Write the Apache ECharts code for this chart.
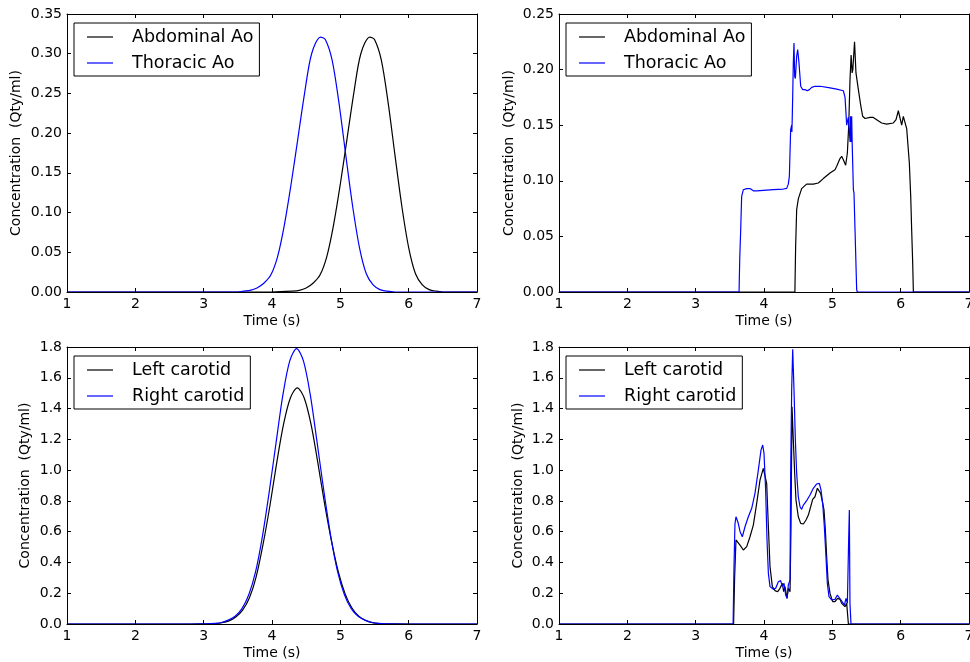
<!DOCTYPE html>
<html>
<head>
<meta charset="utf-8">
<script src="https://cdn.jsdelivr.net/npm/echarts@6/dist/echarts.min.js"></script>
<style>
html,body{margin:0;padding:0;background:#fff}
#main{width:970px;height:662px}
</style>
</head>
<body>
<div id="main"></div>
<script>
// top left : smooth curves
var abdTimeA = [1, 3.5, 4.0, 4.3, 4.4, 4.5, 4.6, 4.7, 4.8, 4.9, 5.0, 5.1, 5.2, 5.3, 5.43, 5.5, 5.6, 5.7, 5.8, 5.9, 6.0, 6.1, 6.2, 6.3, 6.4, 6.5, 6.8, 7];
var abdValA  = [0, 0, 0, 0.001, 0.002, 0.005, 0.011, 0.021, 0.044, 0.084, 0.136, 0.194, 0.252, 0.300, 0.321, 0.318, 0.292, 0.238, 0.172, 0.108, 0.056, 0.023, 0.009, 0.003, 0.001, 0, 0, 0];
var thoTimeA = [1, 3.0, 3.5, 3.58, 3.68, 3.78, 3.88, 3.98, 4.08, 4.18, 4.28, 4.38, 4.48, 4.58, 4.71, 4.78, 4.88, 4.98, 5.08, 5.18, 5.28, 5.38, 5.48, 5.58, 5.68, 5.8, 6.2, 7];
var thoValA  = [0, 0, 0, 0.001, 0.002, 0.005, 0.011, 0.021, 0.044, 0.084, 0.136, 0.194, 0.252, 0.300, 0.321, 0.318, 0.292, 0.238, 0.172, 0.108, 0.056, 0.023, 0.009, 0.003, 0.001, 0, 0, 0];

// top right
var abdTimeB = [1, 4.452, 4.463, 4.478, 4.503, 4.551, 4.624, 4.722, 4.795, 4.868, 4.966, 5.039, 5.064, 5.112, 5.137, 5.161, 5.195, 5.22, 5.24, 5.258, 5.275, 5.29, 5.3, 5.325, 5.346, 5.381, 5.415, 5.444, 5.478, 5.551, 5.6, 5.649, 5.722, 5.795, 5.893, 5.932, 5.966, 5.99, 6.015, 6.039, 6.063, 6.088, 6.112, 6.127, 6.147, 6.161, 6.176, 6.186, 7];
var abdValB  = [0, 0, 0.041, 0.074, 0.084, 0.093, 0.097, 0.097, 0.098, 0.102, 0.107, 0.110, 0.113, 0.120, 0.122, 0.119, 0.114, 0.125, 0.150, 0.190, 0.213, 0.197, 0.200, 0.225, 0.197, 0.182, 0.168, 0.158, 0.156, 0.157, 0.157, 0.155, 0.152, 0.151, 0.152, 0.155, 0.163, 0.162, 0.150, 0.158, 0.159, 0.147, 0.146, 0.116, 0.086, 0.056, 0.026, 0, 0];
var thoTimeB = [1, 3.635, 3.645, 3.659, 3.673, 3.698, 3.746, 3.795, 3.844, 3.893, 3.99, 4.137, 4.283, 4.332, 4.356, 4.371, 4.39, 4.405, 4.408, 4.412, 4.42, 4.429, 4.439, 4.449, 4.459, 4.478, 4.493, 4.512, 4.537, 4.566, 4.6, 4.634, 4.664, 4.698, 4.746, 4.82, 4.966, 5.064, 5.161, 5.186, 5.21, 5.234, 5.249, 5.26, 5.268, 5.275, 5.283, 5.29, 5.298, 5.308, 5.317, 5.332, 5.356, 5.366, 7];
var thoValB  = [0, 0, 0.03, 0.056, 0.086, 0.092, 0.093, 0.093, 0.091, 0.091, 0.0914, 0.092, 0.0926, 0.0932, 0.097, 0.104, 0.146, 0.150, 0.144, 0.153, 0.176, 0.206, 0.224, 0.194, 0.192, 0.212, 0.218, 0.206, 0.185, 0.182, 0.182, 0.181, 0.182, 0.184, 0.185, 0.185, 0.1835, 0.1825, 0.181, 0.175, 0.150, 0.157, 0.158, 0.135, 0.158, 0.135, 0.158, 0.135, 0.116, 0.092, 0.089, 0.056, 0.002, 0, 0];

// bottom left : smooth curves
var lcTimeC = [1, 2.8, 3.07, 3.17, 3.27, 3.37, 3.47, 3.57, 3.67, 3.77, 3.87, 3.97, 4.07, 4.17, 4.27, 4.37, 4.47, 4.57, 4.67, 4.77, 4.87, 4.97, 5.07, 5.17, 5.27, 5.37, 5.47, 5.57, 5.67, 6.0, 7];
var lcValC  = [0, 0, 0.001, 0.003, 0.008, 0.02, 0.045, 0.09, 0.17, 0.31, 0.52, 0.77, 1.05, 1.30, 1.47, 1.535, 1.47, 1.30, 1.05, 0.78, 0.54, 0.34, 0.196, 0.104, 0.051, 0.023, 0.009, 0.003, 0.001, 0, 0];
var rcTimeC = [1, 2.8, 3.06, 3.16, 3.26, 3.36, 3.46, 3.56, 3.66, 3.76, 3.86, 3.96, 4.06, 4.16, 4.26, 4.36, 4.46, 4.56, 4.66, 4.76, 4.86, 4.96, 5.06, 5.16, 5.26, 5.36, 5.46, 5.56, 5.66, 6.0, 7];
var rcValC  = [0, 0, 0.001, 0.004, 0.01, 0.025, 0.05, 0.10, 0.19, 0.34, 0.57, 0.86, 1.18, 1.49, 1.71, 1.79, 1.71, 1.49, 1.18, 0.86, 0.57, 0.34, 0.19, 0.10, 0.05, 0.025, 0.01, 0.004, 0.001, 0, 0];

// bottom right
var lcTimeD = [1, 3.555, 3.57, 3.59, 3.615, 3.649, 3.698, 3.747, 3.795, 3.844, 3.893, 3.942, 3.99, 4.015, 4.039, 4.064, 4.088, 4.122, 4.161, 4.2, 4.234, 4.268, 4.288, 4.307, 4.337, 4.356, 4.381, 4.395, 4.41, 4.429, 4.449, 4.468, 4.502, 4.537, 4.576, 4.615, 4.649, 4.683, 4.712, 4.746, 4.781, 4.805, 4.829, 4.859, 4.878, 4.898, 4.917, 4.937, 4.966, 5.005, 5.039, 5.078, 5.112, 5.137, 5.161, 5.185, 5.21, 5.224, 5.235, 7];
var lcValD  = [0, 0, 0.30, 0.546, 0.557, 0.513, 0.481, 0.503, 0.567, 0.643, 0.784, 0.936, 1.011, 1.022, 0.914, 0.632, 0.373, 0.243, 0.217, 0.21, 0.232, 0.264, 0.21, 0.243, 0.167, 0.232, 0.21, 0.632, 1.412, 1.196, 0.979, 0.806, 0.697, 0.654, 0.65, 0.676, 0.708, 0.762, 0.81, 0.827, 0.882, 0.892, 0.849, 0.784, 0.741, 0.611, 0.437, 0.286, 0.199, 0.145, 0.145, 0.167, 0.16, 0.134, 0.145, 0.113, 0.134, 0.123, 0, 0];
var rcTimeD = [1, 3.548, 3.56, 3.575, 3.59, 3.62, 3.65, 3.683, 3.722, 3.771, 3.82, 3.868, 3.917, 3.956, 3.981, 4.0, 4.024, 4.044, 4.064, 4.088, 4.137, 4.171, 4.21, 4.244, 4.268, 4.293, 4.317, 4.337, 4.356, 4.381, 4.39, 4.405, 4.42, 4.439, 4.459, 4.478, 4.502, 4.527, 4.551, 4.576, 4.624, 4.649, 4.673, 4.698, 4.722, 4.771, 4.81, 4.834, 4.859, 4.883, 4.907, 4.927, 4.951, 4.99, 5.039, 5.073, 5.102, 5.127, 5.151, 5.176, 5.2, 5.22, 5.239, 5.249, 5.258, 5.273, 7];
var rcValD  = [0, 0, 0.35, 0.65, 0.697, 0.66, 0.60, 0.567, 0.632, 0.697, 0.752, 0.849, 1.0, 1.13, 1.163, 1.109, 0.871, 0.546, 0.329, 0.243, 0.225, 0.232, 0.275, 0.282, 0.243, 0.264, 0.188, 0.167, 0.253, 0.286, 0.979, 1.52, 1.785, 1.52, 1.196, 0.979, 0.827, 0.762, 0.745, 0.773, 0.801, 0.806, 0.838, 0.849, 0.882, 0.91, 0.914, 0.871, 0.784, 0.632, 0.437, 0.264, 0.178, 0.156, 0.16, 0.188, 0.188, 0.156, 0.167, 0.123, 0.167, 0.134, 0.55, 0.741, 0.134, 0, 0];

var xTicks = [1, 7, 1];
var yMaxs = [0.35, 0.25, 1.8, 1.8];
var ySteps = [0.05, 0.05, 0.2, 0.2];
var yDecimals = [2, 2, 1, 1];

var FONT = 'DejaVu Sans';
var grids = [
	{left: 67, top: 14, width: 410, height: 278, outerBoundsMode: 'none'},
	{left: 559, top: 14, width: 410, height: 278, outerBoundsMode: 'none'},
	{left: 67, top: 347, width: 410, height: 277, outerBoundsMode: 'none'},
	{left: 559, top: 347, width: 410, height: 277, outerBoundsMode: 'none'}
];
var yNameGap = [44, 43, 35, 34];

function pairs(ts, vs) {
	return ts.map(function (t, i) { return [t, vs[i]]; });
}

var xAxes = [], yAxes = [], series = [], legends = [];
grids.forEach(function (g, i) {
	xAxes.push({
		type: 'value', gridIndex: i, min: xTicks[0], max: xTicks[1], interval: xTicks[2],
		position: 'bottom', z: 5,
		name: 'Time (s)', nameLocation: 'middle', nameGap: 22,
		nameTextStyle: {color: '#000', fontSize: 14, fontFamily: FONT},
		axisLine: {show: true, onZero: false, lineStyle: {color: '#000', width: 1}},
		axisTick: {inside: true, length: 4, lineStyle: {color: '#000'}},
		axisLabel: {color: '#000', fontSize: 14, fontFamily: FONT, margin: 5, showMinLabel: true, showMaxLabel: true},
		splitLine: {show: false}
	});
	xAxes.push({
		type: 'value', gridIndex: i, min: xTicks[0], max: xTicks[1], interval: xTicks[2],
		position: 'top', z: 5,
		axisLine: {show: true, onZero: false, lineStyle: {color: '#000', width: 1}},
		axisTick: {inside: true, length: 4, lineStyle: {color: '#000'}},
		axisLabel: {show: false},
		splitLine: {show: false}
	});
	var dec = yDecimals[i];
	yAxes.push({
		type: 'value', gridIndex: i, min: 0, max: yMaxs[i], interval: ySteps[i],
		position: 'left', z: 5,
		name: 'Concentration  (Qty/ml)', nameLocation: 'middle', nameGap: yNameGap[i],
		nameTextStyle: {color: '#000', fontSize: 14, fontFamily: FONT},
		axisLine: {show: true, onZero: false, lineStyle: {color: '#000', width: 1}},
		axisTick: {inside: true, length: 4, lineStyle: {color: '#000'}},
		axisLabel: {color: '#000', fontSize: 14, fontFamily: FONT, margin: 5, showMinLabel: true, showMaxLabel: true,
			formatter: function (v) { return v.toFixed(dec); }},
		splitLine: {show: false}
	});
	yAxes.push({
		type: 'value', gridIndex: i, min: 0, max: yMaxs[i], interval: ySteps[i],
		position: 'right', z: 5,
		axisLine: {show: true, onZero: false, lineStyle: {color: '#000', width: 1}},
		axisTick: {inside: true, length: 4, lineStyle: {color: '#000'}},
		axisLabel: {show: false},
		splitLine: {show: false}
	});
});

var names = [['Abdominal Ao', 'Thoracic Ao'], ['Abdominal Ao', 'Thoracic Ao'], ['Left carotid', 'Right carotid'], ['Left carotid', 'Right carotid']];
var dataSets = [
	[pairs(abdTimeA, abdValA), pairs(thoTimeA, thoValA)],
	[pairs(abdTimeB, abdValB), pairs(thoTimeB, thoValB)],
	[pairs(lcTimeC, lcValC), pairs(rcTimeC, rcValC)],
	[pairs(lcTimeD, lcValD), pairs(rcTimeD, rcValD)]
];
var colors = ['#000000', '#0000ff'];
var smoothOn = [0.3, false, 0.3, false];

dataSets.forEach(function (ds, i) {
	ds.forEach(function (d, k) {
		series.push({
			type: 'line', name: names[i][k], data: d,
			xAxisIndex: 2 * i, yAxisIndex: 2 * i,
			symbol: 'none', smooth: smoothOn[i],
			color: colors[k],
			lineStyle: {color: colors[k], width: 1.2},
			z: 2
		});
	});
	legends.push({
		left: grids[i].left + 7, top: grids[i].top + 9,
		orient: 'vertical',
		data: names[i],
		icon: 'path://M0,0L26,0L26,1.2L0,1.2Z',
		itemWidth: 26, itemHeight: 14, itemGap: 6,
		padding: [4, 6, 3, 13],
		borderColor: '#000', borderWidth: 1, backgroundColor: '#fff',
		selectedMode: false,
		textStyle: {color: '#000', fontSize: 17.5, lineHeight: 20, fontFamily: FONT, padding: [0, 0, 0, 14]}
	});
});

var chart = echarts.init(document.getElementById('main'));
chart.setOption({
	animation: false,
	backgroundColor: '#fff',
	grid: grids,
	xAxis: xAxes,
	yAxis: yAxes,
	legend: legends,
	series: series
});
</script>
</body>
</html>
